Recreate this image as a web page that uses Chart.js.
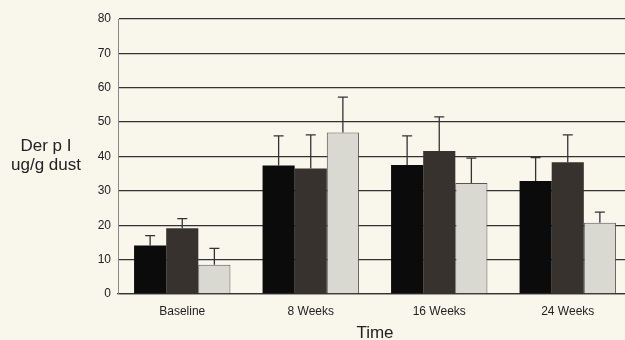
<!DOCTYPE html>
<html>
<head>
<meta charset="utf-8">
<script src="https://cdn.jsdelivr.net/npm/chart.js"></script>
<style>
  html, body { margin: 0; padding: 0; background: #f9f7ec; overflow: hidden; }
  #wrap { width: 640px; height: 340px; }
</style>
</head>
<body>
<div id="wrap"><canvas id="chart" width="640" height="340"></canvas></div>
<script>
const categories = ['Baseline', '8 Weeks', '16 Weeks', '24 Weeks'];
const groupA = [14.1, 37.4, 37.5, 32.9];
const groupB = [19.1, 36.5, 41.6, 38.3];
const groupC = [8.5, 47.0, 32.3, 20.7];
const errA = [2.9, 8.6, 8.5, 6.8];
const errB = [2.8, 9.8, 9.9, 8.0];
const errC = [4.8, 10.3, 7.2, 3.1];
const yTicks = [0, 10, 20, 30, 40, 50, 60, 70, 80];
const errors = [errA, errB, errC];

const textColor = '#222';
const fontFamily = '"Liberation Sans", Arial, sans-serif';

// upper error bars, drawn from bar top
const errorBars = {
    id: 'errorBars',
    afterDatasetsDraw(chart) {
        const ctx = chart.ctx;
        const y = chart.scales.y;
        ctx.save();
        ctx.strokeStyle = '#333';
        ctx.lineWidth = 1.3;
        chart.data.datasets.forEach((ds, i) => {
            const meta = chart.getDatasetMeta(i);
            meta.data.forEach((bar, j) => {
                const top = y.getPixelForValue(ds.data[j] + errors[i][j]);
                ctx.beginPath();
                ctx.moveTo(bar.x, bar.y);
                ctx.lineTo(bar.x, top);
                ctx.moveTo(bar.x - 5, top);
                ctx.lineTo(bar.x + 5, top);
                ctx.stroke();
            });
        });
        ctx.restore();
    }
};

// horizontal y axis title, two lines
const yTitle = {
    id: 'yTitle',
    afterDraw(chart) {
        const ctx = chart.ctx;
        ctx.save();
        ctx.fillStyle = textColor;
        ctx.font = '17px ' + fontFamily;
        ctx.textAlign = 'center';
        ctx.textBaseline = 'middle';
        ctx.fillText('Der p I', 46, 146);
        ctx.fillText('ug/g dust', 46, 165);
        ctx.restore();
    }
};

new Chart(document.getElementById('chart'), {
    type: 'bar',
    data: {
        labels: categories,
        datasets: [
            { label: 'Group 1', data: groupA, backgroundColor: '#0b0b0b', borderColor: '#0b0b0b', borderWidth: 0 },
            { label: 'Group 2', data: groupB, backgroundColor: '#37322d', borderColor: '#2a2622', borderWidth: 0 },
            { label: 'Group 3', data: groupC, backgroundColor: '#d9d9d1', borderColor: '#555', borderWidth: 1 }
        ]
    },
    options: {
        responsive: false,
        animation: false,
        layout: { padding: { left: 90, right: 8, top: 19, bottom: 0 } },
        datasets: { bar: { barPercentage: 1, categoryPercentage: 0.75 } },
        plugins: {
            legend: { display: false },
            tooltip: { enabled: false }
        },
        scales: {
            x: {
                afterFit: (s) => { s.height = 46; },
                grid: { display: false },
                border: { color: '#333', width: 1.3 },
                ticks: { color: textColor, font: { family: fontFamily, size: 12 }, padding: 2 },
                title: { display: true, text: 'Time', color: textColor, font: { family: fontFamily, size: 17 }, padding: { top: 0, bottom: -4 } }
            },
            y: {
                min: 0,
                max: 80,
                afterBuildTicks: (s) => { s.ticks = yTicks.map(v => ({ value: v })); },
                afterFit: (s) => { s.width = 28; },
                grid: { color: '#333', lineWidth: 1.3, drawTicks: false },
                border: { color: '#888', width: 1 },
                ticks: { color: textColor, font: { family: fontFamily, size: 12 }, padding: 7 }
            }
        }
    },
    plugins: [errorBars, yTitle]
});
</script>
</body>
</html>
